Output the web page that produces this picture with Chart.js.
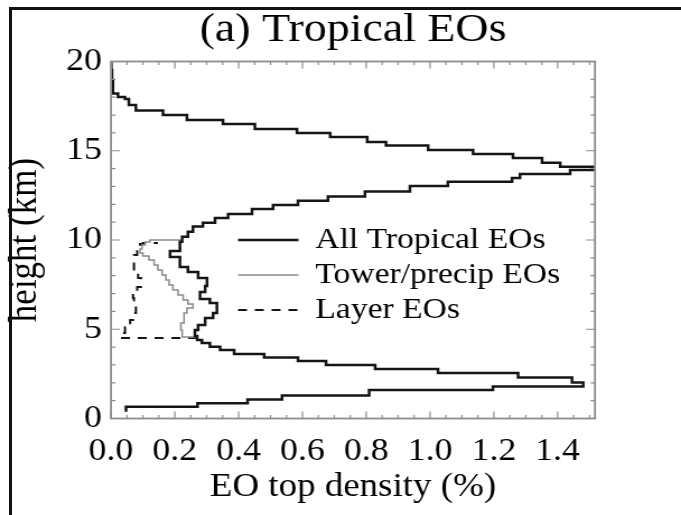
<!DOCTYPE html>
<html>
<head>
<meta charset="utf-8">
<script src="https://cdn.jsdelivr.net/npm/chart.js@4.4.0/dist/chart.umd.min.js"></script>
<style>
    html, body { margin: 0; padding: 0; background: #fff; overflow: hidden; }
    #wrap { position: relative; width: 681px; height: 515px; overflow: hidden; }
    /* the original figure is a bit wider than tall, so the canvas is stretched sideways */
    #lineChart { position: absolute; left: 0; top: 0; transform: scaleX(1.12007); transform-origin: 0 0; }
    #frame { position: absolute; left: 9px; top: 7px; width: 680px; height: 520px;
             border-top: 3px solid #111; border-left: 3px solid #111; }
</style>
</head>
<body>
<div id="wrap">
    <canvas id="lineChart" width="608" height="515"></canvas>
    <div id="frame"></div>
</div>
<script>
// EO top density profiles: height (km) and density (%).
// each density holds from its height up to the next height (histogram steps)
const allHeight = [0.38, 0.66, 0.85, 1.06, 1.29, 1.60, 1.79, 2.02, 2.30, 2.55, 2.77, 3.00, 3.22, 3.42,
    3.61, 3.84, 4.02, 4.23, 4.40, 4.62, 4.96, 5.24, 5.63, 5.91, 6.47, 6.69, 7.09, 7.42, 7.87, 8.21,
    8.49, 9.05, 9.38, 9.90, 10.18, 10.46, 10.75, 10.97, 11.23, 11.46, 11.74, 11.96, 12.20, 12.43,
    12.72, 13.03, 13.27, 13.47, 13.70, 13.92, 14.11, 14.33, 14.59, 14.82, 15.04, 15.29, 15.49,
    15.77, 15.99, 16.22, 16.50, 16.72, 17.00, 17.25, 17.56, 17.90, 18.01, 18.21, 18.96, 19.52, 20.0];
const allDensity = [0.047, 0.271, 0.428, 0.536, 0.809, 1.197, 1.480, 1.445, 1.276, 1.025, 0.828,
    0.674, 0.586, 0.480, 0.386, 0.342, 0.310, 0.285, 0.270, 0.263, 0.273, 0.295, 0.320, 0.332,
    0.310, 0.279, 0.295, 0.301, 0.273, 0.241, 0.216, 0.185, 0.216, 0.223, 0.241, 0.257, 0.288,
    0.326, 0.367, 0.442, 0.508, 0.586, 0.680, 0.796, 0.937, 1.056, 1.257, 1.282, 1.439, 1.560,
    1.408, 1.351, 1.260, 1.135, 0.994, 0.862, 0.803, 0.687, 0.583, 0.451, 0.351, 0.238, 0.163,
    0.078, 0.056, 0.044, 0.022, 0.006, 0.003, 0.001, 0.0];

const towerHeight = [4.57, 4.57, 4.96, 5.35, 5.91, 6.19, 6.41, 6.64, 6.92, 7.20, 7.48, 7.76, 8.04,
    8.32, 8.60, 8.88, 9.10, 9.27, 9.50, 9.72, 9.89, 10.0, 10.0];
const towerDensity = [0.270, 0.223, 0.219, 0.229, 0.238, 0.257, 0.241, 0.226, 0.210, 0.194, 0.182,
    0.172, 0.160, 0.147, 0.135, 0.119, 0.100, 0.091, 0.097, 0.107, 0.122, 0.147, 0.219];

const layerHeight = [4.51, 4.51, 4.79, 5.13, 5.52, 5.91, 6.36, 6.75, 7.09, 7.37, 7.87, 8.15, 8.66,
    9.16, 9.55, 9.78, 9.83];
const layerDensity = [0.270, 0.031, 0.044, 0.060, 0.069, 0.078, 0.072, 0.069, 0.082, 0.094, 0.085,
    0.072, 0.072, 0.082, 0.091, 0.100, 0.147];

const seriesLabels = ['All Tropical EOs', 'Tower/precip EOs', 'Layer EOs'];
const xTickValues = [0, 0.2, 0.4, 0.6, 0.8, 1.0, 1.2, 1.4];
const yTickValues = [0, 5, 10, 15, 20];

Chart.defaults.font.family = "'Liberation Serif', 'Times New Roman', serif";
Chart.defaults.color = '#000';

function toPoints(heights, densities) {
    return heights.map((h, i) => ({ x: densities[i], y: h }));
}

// IDL style ticks pointing into the plot on all four sides, plus the box
const ticksInside = {
    id: 'ticksInside',
    afterDraw(chart) {
        const { ctx, chartArea: a, scales: { x, y } } = chart;
        ctx.save();
        ctx.strokeStyle = '#8c8c8c';
        ctx.lineWidth = 1.2;
        ctx.beginPath();
        for (let i = 0; i * 0.05 <= x.max; i++) {
            const px = x.getPixelForValue(i * 0.05);
            const len = i % 4 === 0 ? 7 : 3.5;
            ctx.moveTo(px, a.bottom); ctx.lineTo(px, a.bottom - len);
            ctx.moveTo(px, a.top); ctx.lineTo(px, a.top + len);
        }
        for (let v = 0; v <= 20; v++) {
            const py = y.getPixelForValue(v);
            const len = v % 5 === 0 ? 8 : 4;
            ctx.moveTo(a.left, py); ctx.lineTo(a.left + len, py);
            ctx.moveTo(a.right, py); ctx.lineTo(a.right - len, py);
        }
        ctx.stroke();
        ctx.lineWidth = 1.8;
        ctx.strokeRect(a.left, a.top, a.right - a.left, a.bottom - a.top);
        ctx.restore();
    }
};

// move the legend box into the middle of the plot
const legendInPlot = {
    id: 'legendInPlot',
    afterLayout(chart) {
        const lg = chart.legend;
        lg.left = 207.5;
        lg.top = 220;
        lg.right = lg.left + lg.width;
        lg.bottom = lg.top + 150;
    }
};

const data = {
    datasets: [{
        label: seriesLabels[0],
        data: toPoints(allHeight, allDensity),
        borderColor: '#151515',
        borderWidth: 2.5
    }, {
        label: seriesLabels[1],
        data: toPoints(towerHeight, towerDensity),
        borderColor: '#8a8a8a',
        borderWidth: 1.5
    }, {
        label: seriesLabels[2],
        data: toPoints(layerHeight, layerDensity),
        borderColor: '#151515',
        borderWidth: 2,
        borderDash: [8, 7]
    }]
};
data.datasets.forEach(ds => {
    ds.stepped = 'after';
    ds.fill = false;
    ds.pointRadius = 0;
});

const options = {
    responsive: false,
    animation: false,
    events: [],
    layout: { padding: { left: 0, right: 76.8, top: 0, bottom: 0 } },
    plugins: {
        title: {
            display: true,
            text: '(a) Tropical EOs',
            fullSize: false,
            color: '#000',
            font: { size: 41, weight: 'normal' },
            padding: { top: 6, bottom: 6.3 }
        },
        legend: {
            position: 'chartArea',
            align: 'start',
            labels: {
                color: '#000',
                font: { size: 30 },
                usePointStyle: true,
                pointStyle: 'line',
                pointStyleWidth: 54,
                padding: 5,
                generateLabels: chart => Chart.defaults.plugins.legend.labels.generateLabels(chart).map(item => {
                    const ds = chart.data.datasets[item.datasetIndex];
                    item.lineDash = ds.borderDash || [];
                    item.lineWidth = ds.borderWidth;
                    item.strokeStyle = ds.borderColor;
                    return item;
                })
            }
        },
        tooltip: { enabled: false }
    },
    scales: {
        x: {
            type: 'linear',
            min: 0,
            max: 1.517,
            grid: { display: false, drawTicks: false },
            border: { display: false },
            afterBuildTicks: s => { s.ticks = xTickValues.map(v => ({ value: v })); },
            afterFit: s => { s.height = 96.5; },
            ticks: {
                color: '#000',
                font: { size: 32 },
                padding: 14,
                maxRotation: 0,
                autoSkip: false,
                callback: v => v.toFixed(1)
            },
            title: {
                display: true,
                text: 'EO top density (%)',
                color: '#000',
                font: { size: 33 },
                padding: { top: 0, bottom: 8 }
            }
        },
        y: {
            type: 'linear',
            min: 0,
            max: 20,
            grid: { display: false, drawTicks: false },
            border: { display: false },
            afterBuildTicks: s => { s.ticks = yTickValues.map(v => ({ value: v })); },
            afterFit: s => { s.width = 99.1; },
            ticks: {
                color: '#000',
                font: { size: 32 },
                padding: 8
            },
            title: {
                display: true,
                text: 'height (km)',
                color: '#000',
                font: { size: 35 },
                padding: { top: 2, bottom: 0 }
            }
        }
    }
};

const config = {
    type: 'line',
    data: data,
    options: options,
    plugins: [ticksInside, legendInPlot]
};

const ctx = document.getElementById('lineChart').getContext('2d');
new Chart(ctx, config);
</script>
</body>
</html>
